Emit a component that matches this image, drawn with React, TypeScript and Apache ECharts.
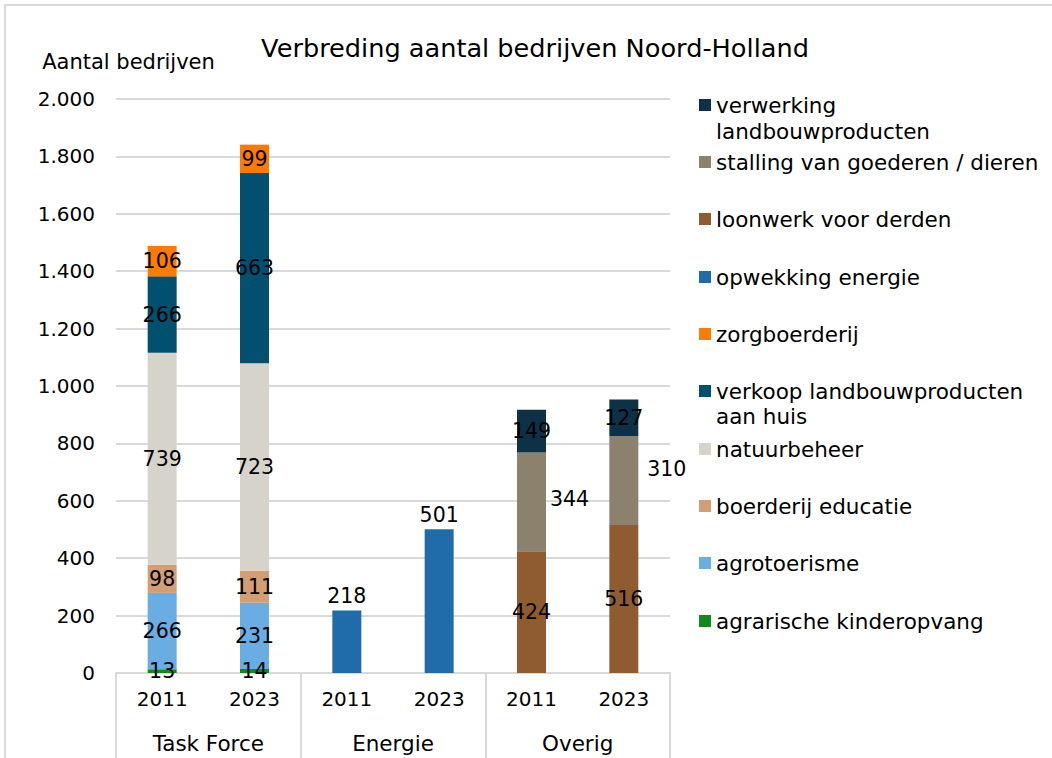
import React, { useEffect, useRef } from "react";
import * as echarts from "echarts";

const years = ["2011", "2023", "2011", "2023", "2011", "2023"];
const groups = ["Task Force", "Energie", "Overig"];
const yTicks = [0, 200, 400, 600, 800, 1000, 1200, 1400, 1600, 1800, 2000];

const kinderopvang = [13, 14, null, null, null, null];
const agrotoerisme = [266, 231, null, null, null, null];
const educatie = [98, 111, null, null, null, null];
const natuurbeheer = [739, 723, null, null, null, null];
const verkoop = [266, 663, null, null, null, null];
const zorgboerderij = [106, 99, null, null, null, null];
const energie = [null, null, 218, 501, null, null];
const loonwerk = [null, null, null, null, 424, 516];
const stalling = [null, null, null, null, 344, 310];
const verwerking = [null, null, null, null, 149, 127];

const FONT = "DejaVu Sans";

export default function App() {
  const ref = useRef<HTMLDivElement>(null);
  useEffect(() => {
    if (!ref.current) return;
    const chart = echarts.init(ref.current, null, { renderer: "svg" });

    const seriesDefs = [
      { name: "agrarische kinderopvang", data: kinderopvang, color: "#118A1B" },
      { name: "agrotoerisme", data: agrotoerisme, color: "#69ADE2" },
      { name: "boerderij educatie", data: educatie, color: "#D29F75" },
      { name: "natuurbeheer", data: natuurbeheer, color: "#D5D3CA" },
      { name: "verkoop landbouwproducten aan huis", data: verkoop, color: "#02506F" },
      { name: "zorgboerderij", data: zorgboerderij, color: "#FF7B00" },
      { name: "opwekking energie", data: energie, color: "#206BA9", top: true },
      { name: "loonwerk voor derden", data: loonwerk, color: "#8F5C30" },
      { name: "stalling van goederen / dieren", data: stalling, color: "#8B816C", offsets: { 4: [38, -3], 5: [43, -11] } },
      { name: "verwerking landbouwproducten", data: verwerking, color: "#0D3147" },
    ];

    const legendOrder = [
      "verwerking landbouwproducten",
      "stalling van goederen / dieren",
      "loonwerk voor derden",
      "opwekking energie",
      "zorgboerderij",
      "verkoop landbouwproducten aan huis",
      "natuurbeheer",
      "boerderij educatie",
      "agrotoerisme",
      "agrarische kinderopvang",
    ];
    const legendFirstLine: Record<string, string> = {
      "verwerking landbouwproducten": "verwerking",
      "verkoop landbouwproducten aan huis": "verkoop landbouwproducten",
    };
    const legendCenters = [105, 162, 219, 277, 334, 391, 449, 506, 563, 621];

    const labelBase = {
      show: true,
      position: "inside",
      color: "#000",
      fontSize: 20.5,
      fontFamily: FONT,
      formatter: (p: any) => (p.value == null ? "" : String(p.value)),
    };

    const series = seriesDefs.map((s: any) => ({
      name: s.name,
      type: "bar",
      stack: "total",
      barWidth: 29,
      itemStyle: { color: s.color },
      label: { ...labelBase, position: s.top ? "top" : "inside", distance: 4 },
      data: s.data.map((v: any, i: number) => {
        if (v == null) return null;
        if (s.offsets && s.offsets[i]) {
          return { value: v, label: { offset: s.offsets[i] } };
        }
        return v;
      }),
    }));

    const option: any = {
      animation: false,
      backgroundColor: "#fff",
      textStyle: { fontFamily: FONT },
      title: {
        text: "Verbreding aantal bedrijven Noord-Holland",
        left: 530,
        top: 30,
        textAlign: "center",
        textStyle: { fontFamily: FONT, fontSize: 25.6, fontWeight: "normal", color: "#000" },
      },
      legend: legendOrder.map((name, i) => ({
        data: [name],
        orient: "vertical",
        left: 699,
        top: legendCenters[i] - 12,
        padding: 0,
        itemWidth: 12,
        itemHeight: 12,
        itemGap: 0,
        icon: "rect",
        selectedMode: false,
        formatter: (n: string) => legendFirstLine[n] || n,
        textStyle: { fontFamily: FONT, fontSize: 21.5, color: "#000", lineHeight: 24 },
      })),
      grid: { left: 116, top: 99, width: 554, height: 574 },
      xAxis: [
        {
          type: "category",
          data: years,
          position: "bottom",
          axisLine: { show: true, lineStyle: { color: "#D9D9D9", width: 2 } },
          axisTick: { show: false },
          axisLabel: { color: "#000", fontSize: 20, fontFamily: FONT, margin: 16, interval: 0 },
        },
        {
          type: "category",
          data: groups,
          position: "bottom",
          axisLine: { show: false },
          axisTick: { show: true, length: 86, lineStyle: { color: "#D9D9D9", width: 2 } },
          axisLabel: { color: "#000", fontSize: 21.5, fontFamily: FONT, margin: 59, interval: 0 },
          splitLine: { show: false },
        },
      ],
      yAxis: {
        type: "value",
        min: yTicks[0],
        max: yTicks[yTicks.length - 1],
        interval: 200,
        name: "Aantal bedrijven",
        nameLocation: "end",
        nameGap: 27,
        nameTextStyle: { color: "#000", fontSize: 21, fontFamily: FONT, align: "center", padding: [0, 0, 0, 25] },
        axisLine: { show: false },
        axisTick: { show: false },
        splitLine: { lineStyle: { color: "#D9D9D9", width: 2 } },
        axisLabel: {
          color: "#000",
          fontSize: 20,
          fontFamily: FONT,
          margin: 21,
          formatter: (v: number) => v.toLocaleString("de-DE"),
        },
      },
      graphic: [
        {
          type: "rect",
          shape: { x: 5, y: 5, width: 1100, height: 800 },
          style: { fill: "none", stroke: "#D9D9D9", lineWidth: 2 },
          silent: true,
        },
        {
          type: "text",
          left: 716,
          top: 120,
          style: { text: "landbouwproducten", fill: "#000", fontSize: 21.5, fontFamily: FONT },
        },
        {
          type: "text",
          left: 716,
          top: 405,
          style: { text: "aan huis", fill: "#000", fontSize: 21.5, fontFamily: FONT },
        },
      ],
      series,
    };
    chart.setOption(option);
    return () => chart.dispose();
  }, []);
  return (
    <div
      ref={ref}
      style={{ position: "fixed", left: 0, top: 0, width: 1052, height: 758 }}
    />
  );
}
